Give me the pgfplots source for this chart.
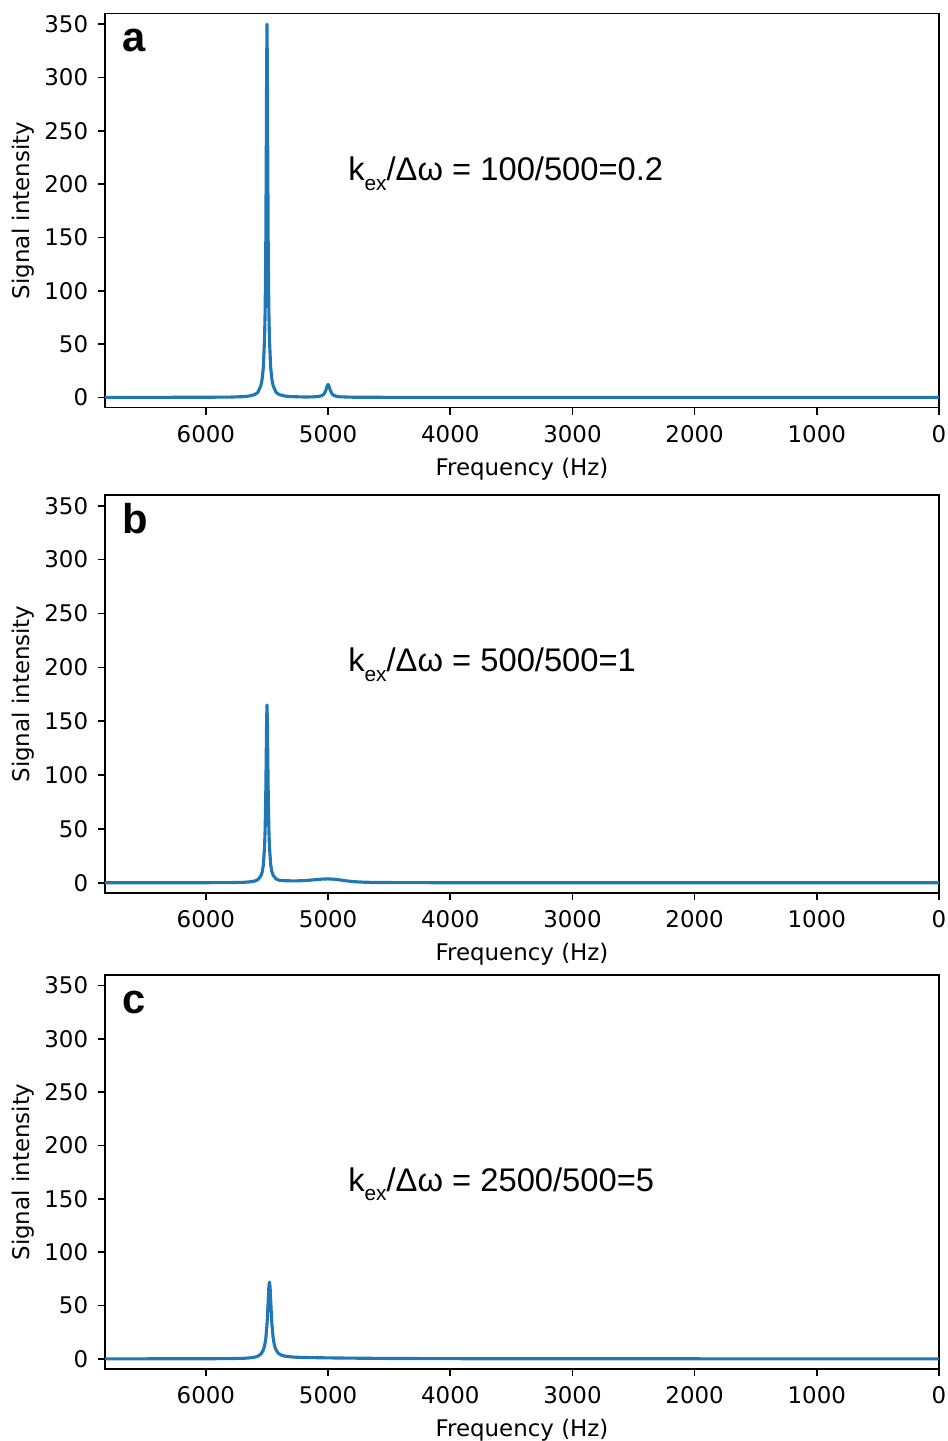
\documentclass[border=0pt]{standalone}
\usepackage{fontspec}
\setmainfont{DejaVu Sans}
\newfontfamily\arial{Liberation Sans}
\usepackage{pgfplots}
\pgfplotsset{compat=1.18}
\definecolor{mplblue}{HTML}{1F77B4}
\pgfplotsset{
  panel/.style={
    scale only axis, width=400.32pt, height=189.12pt, anchor=south west,
    x dir=reverse, xmin=0, xmax=6826, ymin=-9.5, ymax=360,
    xtick={0,1000,2000,3000,4000,5000,6000},
    ytick={0,50,100,150,200,250,300,350},
    tick align=outside, xtick pos=bottom, ytick pos=left,
    major tick length=3.5pt,
    tick style={black, line width=0.8pt},
    axis line style={black, line width=0.8pt},
    /pgf/number format/assume math mode=true,
    /pgf/number format/1000 sep={},
    ticklabel style={font=\fontsize{11}{13}\selectfont},
    xticklabel style={anchor=center, yshift=-9.2pt},
    yticklabel style={anchor=east, inner sep=0pt, xshift=-4.4pt},
    xlabel={Frequency (Hz)}, ylabel={Signal intensity},
    every axis x label/.style={at={(rel axis cs:0.5,0)}, anchor=center, yshift=-29.4pt, font=\fontsize{11}{13}\selectfont},
    every axis y label/.style={at={(rel axis cs:0,0.5)}, anchor=center, xshift=-39.4pt, rotate=90, font=\fontsize{11}{13}\selectfont},
    clip=true,
  },
}
\tikzset{
  spec/.style={color=mplblue, line width=1.5pt, line join=round, mark=none},
  note/.style={anchor=base west, inner sep=0pt, font=\arial\fontsize{15.7}{19}\selectfont},
  letter/.style={anchor=base west, inner sep=0pt, font=\arial\bfseries\fontsize{20}{24}\selectfont},
}
\newcommand{\kex}{k\raisebox{-4.5pt}{\fontsize{10}{10}\selectfont ex}}
\begin{document}
\begin{tikzpicture}
\useasboundingbox (0,0) rectangle (455.04pt,-691.68pt);
% ---------- panel a ----------
\begin{axis}[panel, at={(50.4pt,-195.6pt)}]
\addplot[spec] coordinates {
(6900,0.01) (6500,0.03) (6000,0.11) (5800,0.3) (5700,0.65) (5650,1.2) (5600,2.6)
(5575,4.6) (5550,11) (5540,17) (5530,28) (5520,55) (5515,82) (5510,140)
(5506,226) (5503,307) (5500,350) (5497,307) (5494,226) (5490,140) (5485,82)
(5480,55) (5470,28) (5460,17) (5450,11) (5425,4.6) (5400,2.6) (5350,1.2)
(5300,0.7) (5200,0.4) (5150,0.41) (5100,0.62) (5070,1.05) (5050,1.78) (5040,2.5)
(5030,3.8) (5020,6.1) (5010,9.7) (5005,11.4) (5000,12.1) (4995,11.3) (4990,9.6)
(4980,6.0) (4970,3.7) (4960,2.4) (4950,1.73) (4930,0.98) (4900,0.52) (4800,0.17)
(4500,0.04) (4000,0.01) (3000,0) (0,0)
};
\node[letter] at (axis cs:6687,324) {a};
\node[note] at (axis cs:4838,203) {\kex/Δω = 100/500=0.2};
\end{axis}
% ---------- panel b ----------
\begin{axis}[panel, height=191.04pt, at={(50.4pt,-428.64pt)}]
\addplot[spec] coordinates {
(6900,0.01) (6500,0.02) (6000,0.07) (5800,0.18) (5700,0.41) (5650,0.73) (5600,1.63)
(5575,2.88) (5550,6.35) (5540,9.7) (5530,16.5) (5520,33) (5515,50.8) (5510,82.5)
(5506,121) (5503,151) (5500,165) (5497,151) (5494,121) (5490,83) (5485,51.3)
(5480,33.5) (5470,17.0) (5460,10.3) (5450,7.0) (5425,3.5) (5400,2.3) (5350,1.9)
(5300,1.8) (5250,1.8) (5200,2.0) (5150,2.4) (5100,2.9) (5050,3.4) (5000,3.6)
(4950,3.3) (4900,2.6) (4850,1.8) (4800,1.1) (4700,0.5) (4600,0.3) (4400,0.15)
(4000,0.05) (3000,0.01) (0,0)
};
\node[letter] at (axis cs:6687,324) {b};
\node[note] at (axis cs:4838,196) {\kex/Δω = 500/500=1};
\end{axis}
% ---------- panel c ----------
\begin{axis}[panel, at={(50.4pt,-657.1pt)}]
\addplot[spec] coordinates {
(6900,0.01) (6500,0.03) (6000,0.09) (5800,0.23) (5700,0.48) (5650,0.8) (5600,1.59)
(5575,2.49) (5550,4.47) (5530,8.26) (5520,12.1) (5510,19.0) (5500,32.3) (5495,42.5)
(5490,55) (5485,66.8) (5480,72) (5475,67.6) (5470,55.8) (5465,43.3) (5460,33.1)
(5450,20.0) (5440,13.1) (5430,9.3) (5410,5.5) (5385,3.6) (5360,2.7) (5310,1.9)
(5260,1.5) (5160,1.2) (5000,0.9) (4800,0.65) (4500,0.37) (4000,0.16) (3000,0.05)
(0,0)
};
\node[letter] at (axis cs:6687,324) {c};
\node[note] at (axis cs:4838,157) {\kex/Δω = 2500/500=5};
\end{axis}
\end{tikzpicture}
\end{document}
